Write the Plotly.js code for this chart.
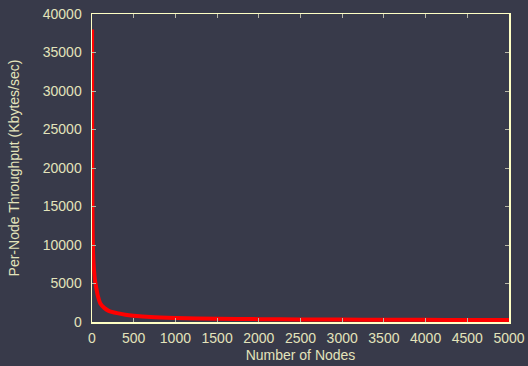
<!DOCTYPE html>
<html><head><meta charset="utf-8">
<script src="https://cdn.plot.ly/plotly-3.0.1.min.js"></script>
<style>html,body{margin:0;padding:0;background:#383a4a;}</style>
</head><body>
<div id="chart" style="width:528px;height:366px;"></div>
<script>
const nodes = [1,2,3,5,8,12,18,25,35,50,70,100,150,200,300,400,500,700,1000,1500,2000,2500,3000,3500,4000,4500,5000];
const throughput = [38000,26000,20500,15000,11500,9300,7700,6600,5500,4500,3400,2400,1800,1450,1150,950,820,640,520,430,370,340,315,295,278,263,250];
const xTicks = [0,500,1000,1500,2000,2500,3000,3500,4000,4500,5000];
const yTicks = [0,5000,10000,15000,20000,25000,30000,35000,40000];

const txt = '#e3e3bb';
const fam = 'Liberation Sans, Arial, sans-serif';
const axisBase = {
  showline: true, linecolor: '#ffffc4', linewidth: 1.5, mirror: 'ticks',
  ticks: 'inside', ticklen: 4, tickcolor: '#b8b8a8', tickwidth: 1,
  showgrid: false, zeroline: false,
  tickfont: {family: fam, size: 14, color: txt}
};
Plotly.newPlot('chart', [{
  x: nodes, y: throughput, type: 'scatter', mode: 'lines',
  line: {color: '#ff0000', width: 4, shape: 'spline', smoothing: 0.6}
}], {
  width: 528, height: 366,
  paper_bgcolor: '#383a4a', plot_bgcolor: '#383a4a',
  margin: {l: 92, r: 19, t: 14, b: 44},
  showlegend: false,
  xaxis: Object.assign({}, axisBase, {
    range: [0, 5000], tickvals: xTicks, ticktext: xTicks.map(String),
    ticklabelstandoff: 3,
    title: {text: 'Number of Nodes', standoff: 5, font: {family: fam, size: 14, color: txt}}
  }),
  yaxis: Object.assign({}, axisBase, {
    range: [0, 40000], tickvals: yTicks, ticktext: yTicks.map(String),
    ticklabelstandoff: 6,
    title: {text: 'Per-Node Throughput (Kbytes/sec)', standoff: 20, font: {family: fam, size: 14, color: txt}}
  })
}, {staticPlot: true});
</script>
</body></html>
